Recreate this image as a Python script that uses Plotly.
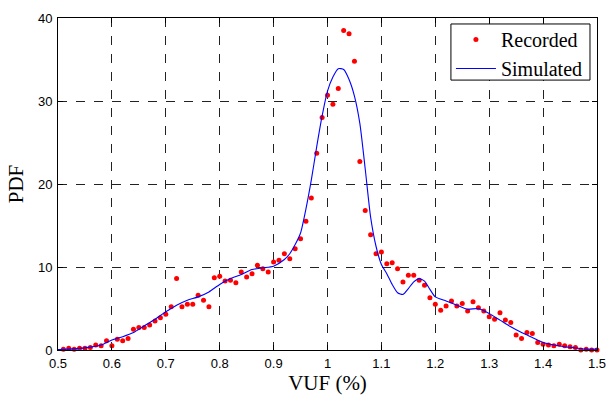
import plotly.graph_objects as go

# Recorded data (red dots)
rec_x = [0.51, 0.52, 0.53, 0.54, 0.55, 0.56, 0.57, 0.58, 0.59, 0.60,
         0.61, 0.62, 0.63, 0.64, 0.65, 0.66, 0.67, 0.68, 0.69, 0.70,
         0.71, 0.72, 0.73, 0.74, 0.75, 0.76, 0.77, 0.78, 0.79, 0.80,
         0.81, 0.82, 0.83, 0.84, 0.85, 0.86, 0.87, 0.88, 0.89, 0.90,
         0.91, 0.92, 0.93, 0.94, 0.95, 0.96, 0.97, 0.98, 0.99, 1.00,
         1.01, 1.02, 1.03, 1.04, 1.05, 1.06, 1.07, 1.08, 1.09, 1.10,
         1.11, 1.12, 1.13, 1.14, 1.15, 1.16, 1.17, 1.18, 1.19, 1.20,
         1.21, 1.22, 1.23, 1.24, 1.25, 1.26, 1.27, 1.28, 1.29, 1.30,
         1.31, 1.32, 1.33, 1.34, 1.35, 1.36, 1.37, 1.38, 1.39, 1.40,
         1.41, 1.42, 1.43, 1.44, 1.45, 1.46, 1.47, 1.48, 1.49, 1.50]
rec_y = [0.1, 0.2, 0.1, 0.2, 0.2, 0.3, 0.6, 0.5, 1.1, 0.5,
         1.3, 1.1, 1.4, 2.5, 2.7, 2.7, 3.0, 3.5, 3.9, 4.3,
         5.2, 8.6, 5.2, 5.5, 5.5, 6.6, 6.0, 5.2, 8.7, 8.9,
         8.3, 8.4, 8.1, 9.4, 8.8, 9.2, 10.2, 9.8, 9.4, 10.6,
         10.8, 11.6, 11.0, 12.2, 13.4, 15.5, 18.3, 23.7, 28.0, 30.7,
         29.6, 31.5, 38.5, 38.1, 34.8, 22.7, 16.8, 13.9, 11.6, 11.8,
         10.4, 10.5, 9.8, 8.2, 9.0, 9.0, 8.4, 7.8, 6.3, 5.5,
         4.8, 5.3, 5.9, 5.3, 5.6, 4.7, 5.8, 5.1, 4.7, 4.0,
         3.7, 4.5, 3.6, 3.3, 1.8, 1.4, 2.1, 2.0, 0.9, 0.7,
         0.6, 0.5, 0.7, 0.5, 0.4, 0.3, 0.0, 0.1, 0.0, 0.0]

# Simulated curve (blue line)
sim_x = [0.50, 0.52, 0.54, 0.56, 0.58, 0.60, 0.62, 0.64, 0.66, 0.68,
         0.70, 0.72, 0.74, 0.76, 0.78, 0.80, 0.82, 0.84, 0.86, 0.88,
         0.90, 0.92, 0.93, 0.94, 0.95, 0.96, 0.97, 0.98, 0.99, 1.00,
         1.01, 1.02, 1.03, 1.04, 1.05, 1.06, 1.07, 1.08, 1.09, 1.10,
         1.11, 1.12, 1.13, 1.14, 1.15, 1.16, 1.17, 1.18, 1.19, 1.20,
         1.22, 1.24, 1.26, 1.28, 1.30, 1.32, 1.34, 1.36, 1.38, 1.40,
         1.42, 1.44, 1.46, 1.48, 1.50]
sim_y = [0.05, 0.1, 0.2, 0.35, 0.6, 1.2, 1.6, 2.1, 2.9, 3.7,
         4.6, 5.4, 6.0, 6.4, 7.0, 7.9, 8.6, 9.1, 9.7, 9.9,
         10.1, 10.9, 11.6, 12.7, 14.1, 17.0, 20.5, 24.5, 28.2, 31.2,
         32.9, 33.9, 33.8, 32.6, 30.6, 27.3, 21.8, 16.0, 12.5, 10.3,
         9.2, 7.9, 6.9, 6.7, 7.4, 8.2, 8.6, 8.3, 7.3, 6.4,
         5.9, 5.4, 4.9, 5.0, 4.4, 3.6, 2.8, 2.1, 1.5, 0.9,
         0.6, 0.4, 0.25, 0.1, 0.1]

x_ticks = [0.5, 0.6, 0.7, 0.8, 0.9, 1.0, 1.1, 1.2, 1.3, 1.4, 1.5]
x_tick_labels = ["0.5", "0.6", "0.7", "0.8", "0.9", "1", "1.1",
                 "1.2", "1.3", "1.4", "1.5"]
y_ticks = [0, 10, 20, 30, 40]

fig = go.Figure()
fig.add_trace(go.Scatter(x=rec_x, y=rec_y, mode="markers", name="Recorded",
                         marker=dict(color="#ff0000", size=5),
                         cliponaxis=False))
fig.add_trace(go.Scatter(x=sim_x, y=sim_y, mode="lines", name="Simulated",
                         line=dict(color="#0000ff", width=1.1, shape="spline",
                                   smoothing=0.6)))

axis_common = dict(showline=True, linecolor="black", linewidth=1,
                   mirror="ticks", ticks="inside", ticklen=5,
                   tickcolor="black", showgrid=True, gridcolor="#222222",
                   griddash="dash", gridwidth=1, zeroline=False,
                   automargin=False, ticklabeloverflow="allow",
                   tickfont=dict(family="Liberation Sans, Arial", size=13,
                                 color="black"))

fig.update_xaxes(range=[0.5, 1.5], tickvals=x_ticks, ticktext=x_tick_labels,
                 ticklabelstandoff=1,
                 title=dict(text="VUF (%)", standoff=4,
                            font=dict(family="Liberation Serif, Times New Roman",
                                      size=21, color="black")),
                 **axis_common)
fig.update_yaxes(range=[0, 40], tickvals=y_ticks, ticklabelstandoff=2,
                 title=dict(text="PDF", standoff=8,
                            font=dict(family="Liberation Serif, Times New Roman",
                                      size=21, color="black")),
                 **axis_common)

# Legend frame (white box with black border) drawn as a paper-referenced shape
fig.add_shape(type="rect", xref="paper", yref="paper",
              x0=0.729, x1=0.987, y0=0.813, y1=0.982,
              fillcolor="white", line=dict(color="black", width=1),
              layer="above")

fig.update_layout(
    width=608, height=396,
    margin=dict(l=58, r=11, t=18, b=46),
    plot_bgcolor="white", paper_bgcolor="white",
    showlegend=True,
    legend=dict(x=0.729, y=0.994, xanchor="left", yanchor="top",
                bgcolor="rgba(0,0,0,0)", borderwidth=0,
                font=dict(family="Liberation Serif, Times New Roman", size=20,
                          color="black"),
                tracegroupgap=0, itemwidth=40),
)

# remove the default page margin so the 608x396 figure fills the window
fig.write_html("out.html",
               config={"displayModeBar": False},
               post_script="document.body.style.margin='0px';"
                           "document.documentElement.style.overflow='hidden';")
